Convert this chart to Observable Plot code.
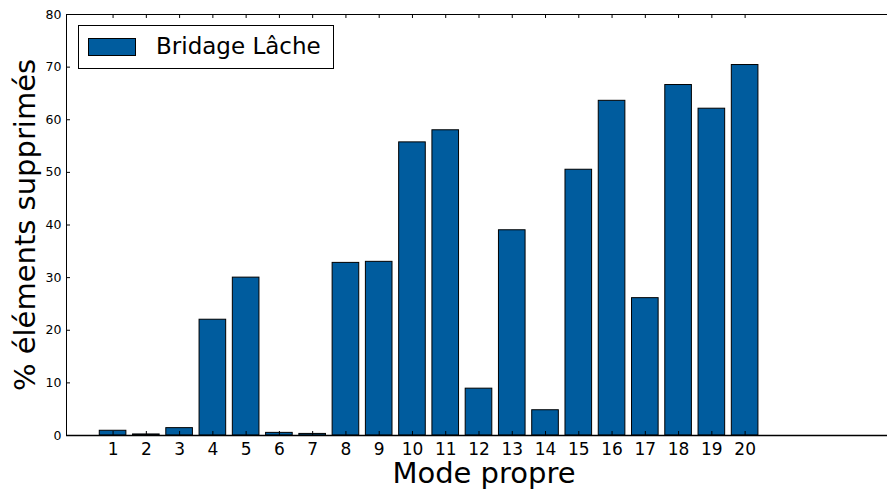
<!DOCTYPE html>
<html>
<head>
<meta charset="utf-8">
<script src="https://cdn.jsdelivr.net/npm/d3@7"></script>
<script src="https://cdn.jsdelivr.net/npm/@observablehq/plot@0.6"></script>
<style>
  html, body { margin: 0; padding: 0; background: white; }
  #wrap { position: relative; width: 888px; height: 492px; font-family: "DejaVu Sans", sans-serif; }
  #legend { position: absolute; left: 78px; top: 25px; width: 254px; height: 42px; border: 1px solid #000; background: #fff; }
  #legend .sw { position: absolute; left: 9px; top: 12px; width: 46px; height: 16px; border: 1px solid #000; background: #005c9e; }
  #legend .lab { position: absolute; left: 77px; top: 5px; font-size: 23px; line-height: 30px; color: #000; white-space: nowrap; }
</style>
</head>
<body>
<div id="wrap"></div>
<script>
const modes = [1, 2, 3, 4, 5, 6, 7, 8, 9, 10, 11, 12, 13, 14, 15, 16, 17, 18, 19, 20];
const values = [0.9, 0.2, 1.4, 22.0, 30.0, 0.5, 0.3, 32.8, 33.0, 55.7, 58.0, 8.9, 39.0, 4.8, 50.5, 63.6, 26.1, 66.6, 62.1, 70.4];
const modeLabels = ["1","2","3","4","5","6","7","8","9","10","11","12","13","14","15","16","17","18","19","20"];
const yTicks = [0, 10, 20, 30, 40, 50, 60, 70, 80];
const seriesName = "Bridage Lâche";
const xLabel = "Mode propre";
const yLabel = "% éléments supprimés";

const barColor = "#005c9e";
const barWidth = 0.8;
const data = modes.map((m, i) => ({mode: m, value: values[i]}));
const tickPos = modes.map(m => m + barWidth / 2);

const chart = Plot.plot({
  width: 888,
  height: 492,
  marginLeft: 66,
  marginRight: 1,
  marginTop: 14,
  marginBottom: 57,
  style: {fontFamily: "DejaVu Sans", background: "white", color: "black", overflow: "visible"},
  x: {domain: [0, 24.68]},
  y: {domain: [0, 80]},
  marks: [
    Plot.rectY(data, {x1: d => d.mode, x2: d => d.mode + barWidth, y: "value", fill: barColor, stroke: "black", strokeWidth: 1}),
    Plot.ruleY([0], {stroke: "black", strokeWidth: 1.3}),
    Plot.ruleY([80], {stroke: "black", strokeWidth: 1}),
    Plot.ruleX([0], {stroke: "black", strokeWidth: 1}),
    Plot.ruleX(tickPos, {x: d => d, y1: 0, y2: 0.76, stroke: "black"}),
    Plot.ruleX(tickPos, {x: d => d, y1: 80, y2: 79.24, stroke: "black"}),
    Plot.ruleY(yTicks, {y: d => d, x1: 0, x2: 0.12, stroke: "black"}),
    Plot.axisX(tickPos, {tickSize: 0, tickPadding: 7, tickFormat: (d, i) => modeLabels[i], fontSize: 17, label: null}),
    Plot.axisY(yTicks, {tickSize: 0, tickPadding: 5, fontSize: 12.5, label: null}),
    Plot.text([xLabel], {text: d => d, frameAnchor: "bottom", textAnchor: "middle", lineAnchor: "middle", dy: 38, dx: 7, fontSize: 29, fill: "black"}),
    Plot.text([yLabel], {text: d => d, frameAnchor: "left", textAnchor: "middle", lineAnchor: "middle", rotate: -90, dx: -41, fontSize: 29, fill: "black"})
  ]
});

const wrap = document.getElementById("wrap");
wrap.appendChild(chart);
const legend = document.createElement("div");
legend.id = "legend";
legend.innerHTML = `<div class="sw"></div><div class="lab"></div>`;
legend.querySelector(".lab").textContent = seriesName;
wrap.appendChild(legend);
</script>
</body>
</html>
